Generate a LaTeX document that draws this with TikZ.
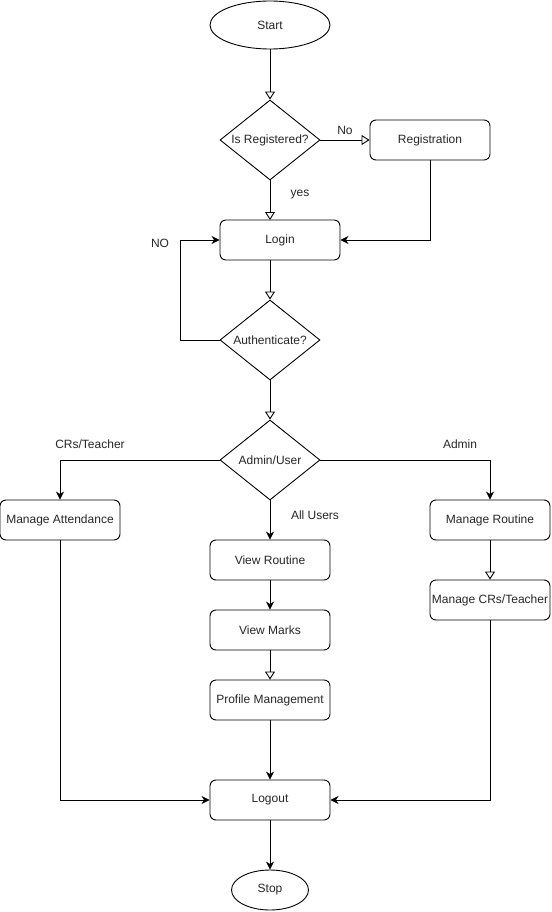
\documentclass[tikz,border=0pt]{standalone}
\usepackage{fontspec}
\setmainfont{Liberation Sans}
\usetikzlibrary{shapes.geometric,arrows.meta}
\begin{document}
\begin{tikzpicture}[x=1pt,y=-1pt,
  every node/.style={font=\fontsize{12}{14}\selectfont, text=black!85},
  proc/.style={draw, rounded corners=6pt, line width=0.9pt, minimum width=120pt, minimum height=40pt, inner sep=0pt},
  term/.style={draw, ellipse, line width=0.9pt, inner sep=0pt},
  decide/.style={draw, diamond, aspect=1.25, line width=0.9pt, minimum width=100pt, minimum height=80pt, inner sep=0pt},
  lbl/.style={inner sep=0pt},
  flow/.style={line width=0.9pt, -{Stealth[length=8pt,width=8pt,inset=2.5pt]}},
  openflow/.style={line width=0.9pt, -{Triangle[open,length=8pt,width=10pt]}},
]
\useasboundingbox (0,0) rectangle (551,912);

% terminals
\node[term, minimum width=120pt, minimum height=48pt] (start) at (270,25) {Start};
\node[term, minimum width=77pt, minimum height=40pt] (stop) at (270,890) {Stop};

% decisions
\node[decide] (reg) at (270,140) {Is Registered?};
\node[decide] (auth) at (270,340) {Authenticate?};
\node[decide] (role) at (270,460) {Admin/User};

% process boxes
\node[proc] (registration) at (430,140) {Registration};
\node[proc] (login) at (280,240) {Login};
\node[proc] (attend) at (60,520) {Manage Attendance};
\node[proc] (mroutine) at (490,520) {Manage Routine};
\node[proc] (mcrs) at (490,600) {Manage CRs/Teacher};
\node[proc] (vroutine) at (270,560) {View Routine};
\node[proc] (vmarks) at (270,630) {View Marks};
\node[proc] (profile) at (270,700) {Profile Management};
\node[proc] (logout) at (270,800) {Logout};

% turning points
\coordinate (noback) at (180,340);
\coordinate (nobacktop) at (180,240);

% connectors
\draw[openflow] (start.south) -- (reg.north);
\draw[openflow] (reg.east) -- (registration.west);
\draw[openflow] (reg.south) -- (270,220);
\draw[flow] (registration.south) |- (login.east);
\draw[openflow] (270,260) -- (auth.north);
\draw[flow] (auth.west) -- (noback) -- (nobacktop) -- (login.west);
\draw[openflow] (auth.south) -- (role.north);
\draw[flow] (role.west) -| (attend.north);
\draw[flow] (role.east) -| (mroutine.north);
\draw[flow] (role.south) -- (vroutine.north);
\draw[flow] (vroutine.south) -- (vmarks.north);
\draw[openflow] (vmarks.south) -- (profile.north);
\draw[flow] (profile.south) -- (logout.north);
\draw[openflow] (mroutine.south) -- (mcrs.north);
\draw[flow] (attend.south) |- (logout.west);
\draw[flow] (mcrs.south) |- (logout.east);
\draw[flow] (logout.south) -- (stop.north);

% edge labels
\node[lbl] (lno) at (345,130) {No};
\node[lbl] (lyes) at (300,195) {yes};
\node[lbl] (lNO) at (160,243) {NO};
\node[lbl] (lcr) at (90,444) {CRs/Teacher};
\node[lbl] (ladmin) at (460,444) {Admin};
\node[lbl] (lall) at (315,515) {All Users};
\end{tikzpicture}
\end{document}
